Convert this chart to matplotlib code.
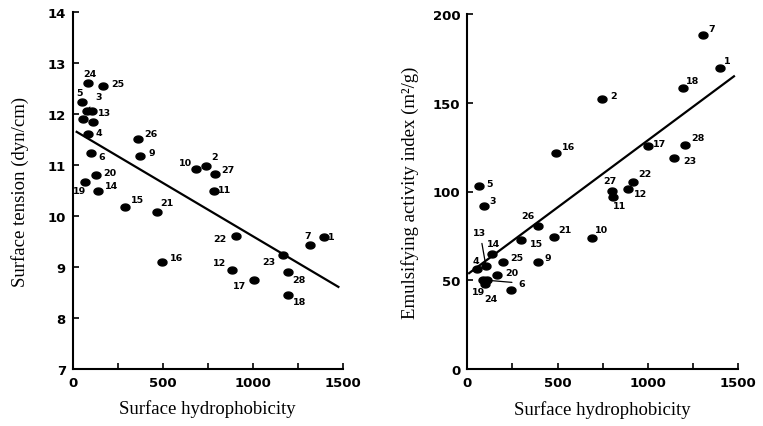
import numpy as np
import matplotlib
matplotlib.use("Agg")
import matplotlib.pyplot as plt
from matplotlib.path import Path

# sample ids (28 samples)
ids = [str(i) for i in range(1, 29)]

# surface hydrophobicity vs surface tension (left panel)
hydro_left = [1398, 741, 78, 87, 50, 102, 1318, 56, 374, 685, 785, 883, 106, 142,
              291, 494, 1009, 1194, 68, 129, 467, 906, 1167, 87, 170, 364, 791, 1194]
tension = [9.59, 10.99, 12.06, 11.61, 12.23, 11.24, 9.43, 11.90, 11.18, 10.92, 10.50,
           8.94, 12.06, 10.50, 10.17, 9.09, 8.75, 8.45, 10.67, 10.80, 10.08, 9.61,
           9.24, 12.61, 12.54, 11.51, 10.82, 8.91]
# one extra unlabeled dot in the cluster near the axis
extra_left_x = [114]
extra_left_y = [11.85]
fit_left_x = [22, 1476]
fit_left_y = [11.65, 8.61]

# surface hydrophobicity vs emulsifying activity index (right panel)
hydro_right = [1398, 748, 92, 52, 66, 110, 1303, 240, 390, 688, 805, 891, 103, 138,
               295, 489, 1000, 1192, 85, 163, 481, 917, 1145, 100, 199, 393, 799, 1205]
eai = [169.6, 152.0, 92.0, 56.3, 103.3, 50.0, 188.3, 44.7, 60.5, 73.6, 96.7, 101.4,
       58.0, 65.0, 72.7, 121.7, 125.6, 158.3, 50.0, 53.0, 74.4, 105.5, 118.8, 48.0,
       60.1, 80.7, 100.5, 126.4]
fit_right_x = [10, 1476]
fit_right_y = [54.0, 164.9]

# label offsets in pixels (dx, dy), and whether a leader line is drawn
left_offsets = {
    "1": (7, 0), "2": (8, 9), "3": (12, 14), "4": (11, 1), "5": (-2, 10), "6": (11, -4),
    "7": (-2, 10), "8": None, "9": (12, 3), "10": (-11, 7), "11": (11, 1), "12": (-12, 8),
    "13": (13, -2), "14": (13, 5), "15": (12, 8), "16": (15, 5), "17": (-15, -6),
    "18": (12, -6), "19": (-5, -9), "20": (14, 3), "21": (10, 9), "22": (-16, -3),
    "23": (-14, -7), "24": (2, 9), "25": (15, 3), "26": (13, 5), "27": (13, 5),
    "28": (11, -8),
}
left_leaders = {"3"}

right_offsets = {
    "1": (7, 7), "2": (11, 4), "3": (9, 5), "4": (-1, 9), "5": (10, 2), "6": (35, -3),
    "7": (9, 6), "8": None, "9": (10, 4), "10": (10, 9), "11": (7, -8), "12": (12, -4),
    "13": (-6, 34), "14": (1, 10), "15": (16, -4), "16": (13, 6), "17": (12, 3),
    "18": (10, 8), "19": (-4, -11), "20": (15, 2), "21": (11, 7), "22": (12, 8),
    "23": (16, -2), "24": (6, -15), "25": (14, 5), "26": (-10, 10), "27": (-2, 10),
    "28": (13, 7),
}
right_leaders = {"13", "6", "20"}

theta = np.linspace(0, 2 * np.pi, 40)
ellipse = Path(np.column_stack([1.3 * np.cos(theta), np.sin(theta)]))

tick_font = dict(family="DejaVu Sans", weight="bold", size=9.5)
label_font = dict(family="Liberation Serif", size=13.5)


def style_axes(ax, ymin, ymax, ystep):
    for side in ["top", "right"]:
        ax.spines[side].set_visible(False)
    for side in ["left", "bottom"]:
        ax.spines[side].set_linewidth(1.5)
    ax.set_xlim(0, 1500)
    ax.set_ylim(ymin, ymax)
    ax.set_xticks([0, 500, 1000, 1500])
    ax.set_xticks([250, 750, 1250], minor=True)
    ax.set_yticks(np.arange(ymin, ymax + ystep / 2, ystep))
    ax.tick_params(which="both", direction="in", length=4, width=1.2, pad=5)
    for lab in ax.get_xticklabels() + ax.get_yticklabels():
        lab.set(**tick_font)


def draw_points(ax, xs, ys, offsets, leaders):
    ax.plot(xs, ys, linestyle="none", marker=ellipse, ms=6.5, color="black", clip_on=False)
    for name, x, y in zip(ids, xs, ys):
        off = offsets.get(name)
        if off is None:
            continue
        arrow = None
        if name in leaders:
            arrow = dict(arrowstyle="-", lw=0.9, color="black", shrinkA=3, shrinkB=1)
        ax.annotate(name, (x, y), xytext=off, textcoords="offset pixels",
                    ha="center", va="center", fontsize=6.8, fontweight="bold",
                    family="DejaVu Sans", arrowprops=arrow)


fig = plt.figure(figsize=(7.63, 4.27), dpi=100)

ax1 = fig.add_axes([72.7 / 763, 1 - 370 / 427, 270 / 763, 357 / 427])
style_axes(ax1, 7, 14, 1)
draw_points(ax1, hydro_left, tension, left_offsets, left_leaders)
ax1.plot(extra_left_x, extra_left_y, linestyle="none", marker=ellipse, ms=6.5, color="black")
ax1.plot(fit_left_x, fit_left_y, color="black", lw=1.6)
ax1.set_xlabel("Surface hydrophobicity", labelpad=7, **label_font)
ax1.set_ylabel("Surface tension (dyn/cm)", labelpad=13, **label_font)

ax2 = fig.add_axes([467.3 / 763, 1 - 370 / 427, 271 / 763, 355 / 427])
style_axes(ax2, 0, 200, 50)
draw_points(ax2, hydro_right, eai, right_offsets, right_leaders)
ax2.plot(fit_right_x, fit_right_y, color="black", lw=1.6)
ax2.set_xlabel("Surface hydrophobicity", labelpad=8, **label_font)
ax2.set_ylabel("Emulsifying activity index (m\u00b2/g)", labelpad=10, **label_font)

fig.savefig("out.png", dpi=100)
